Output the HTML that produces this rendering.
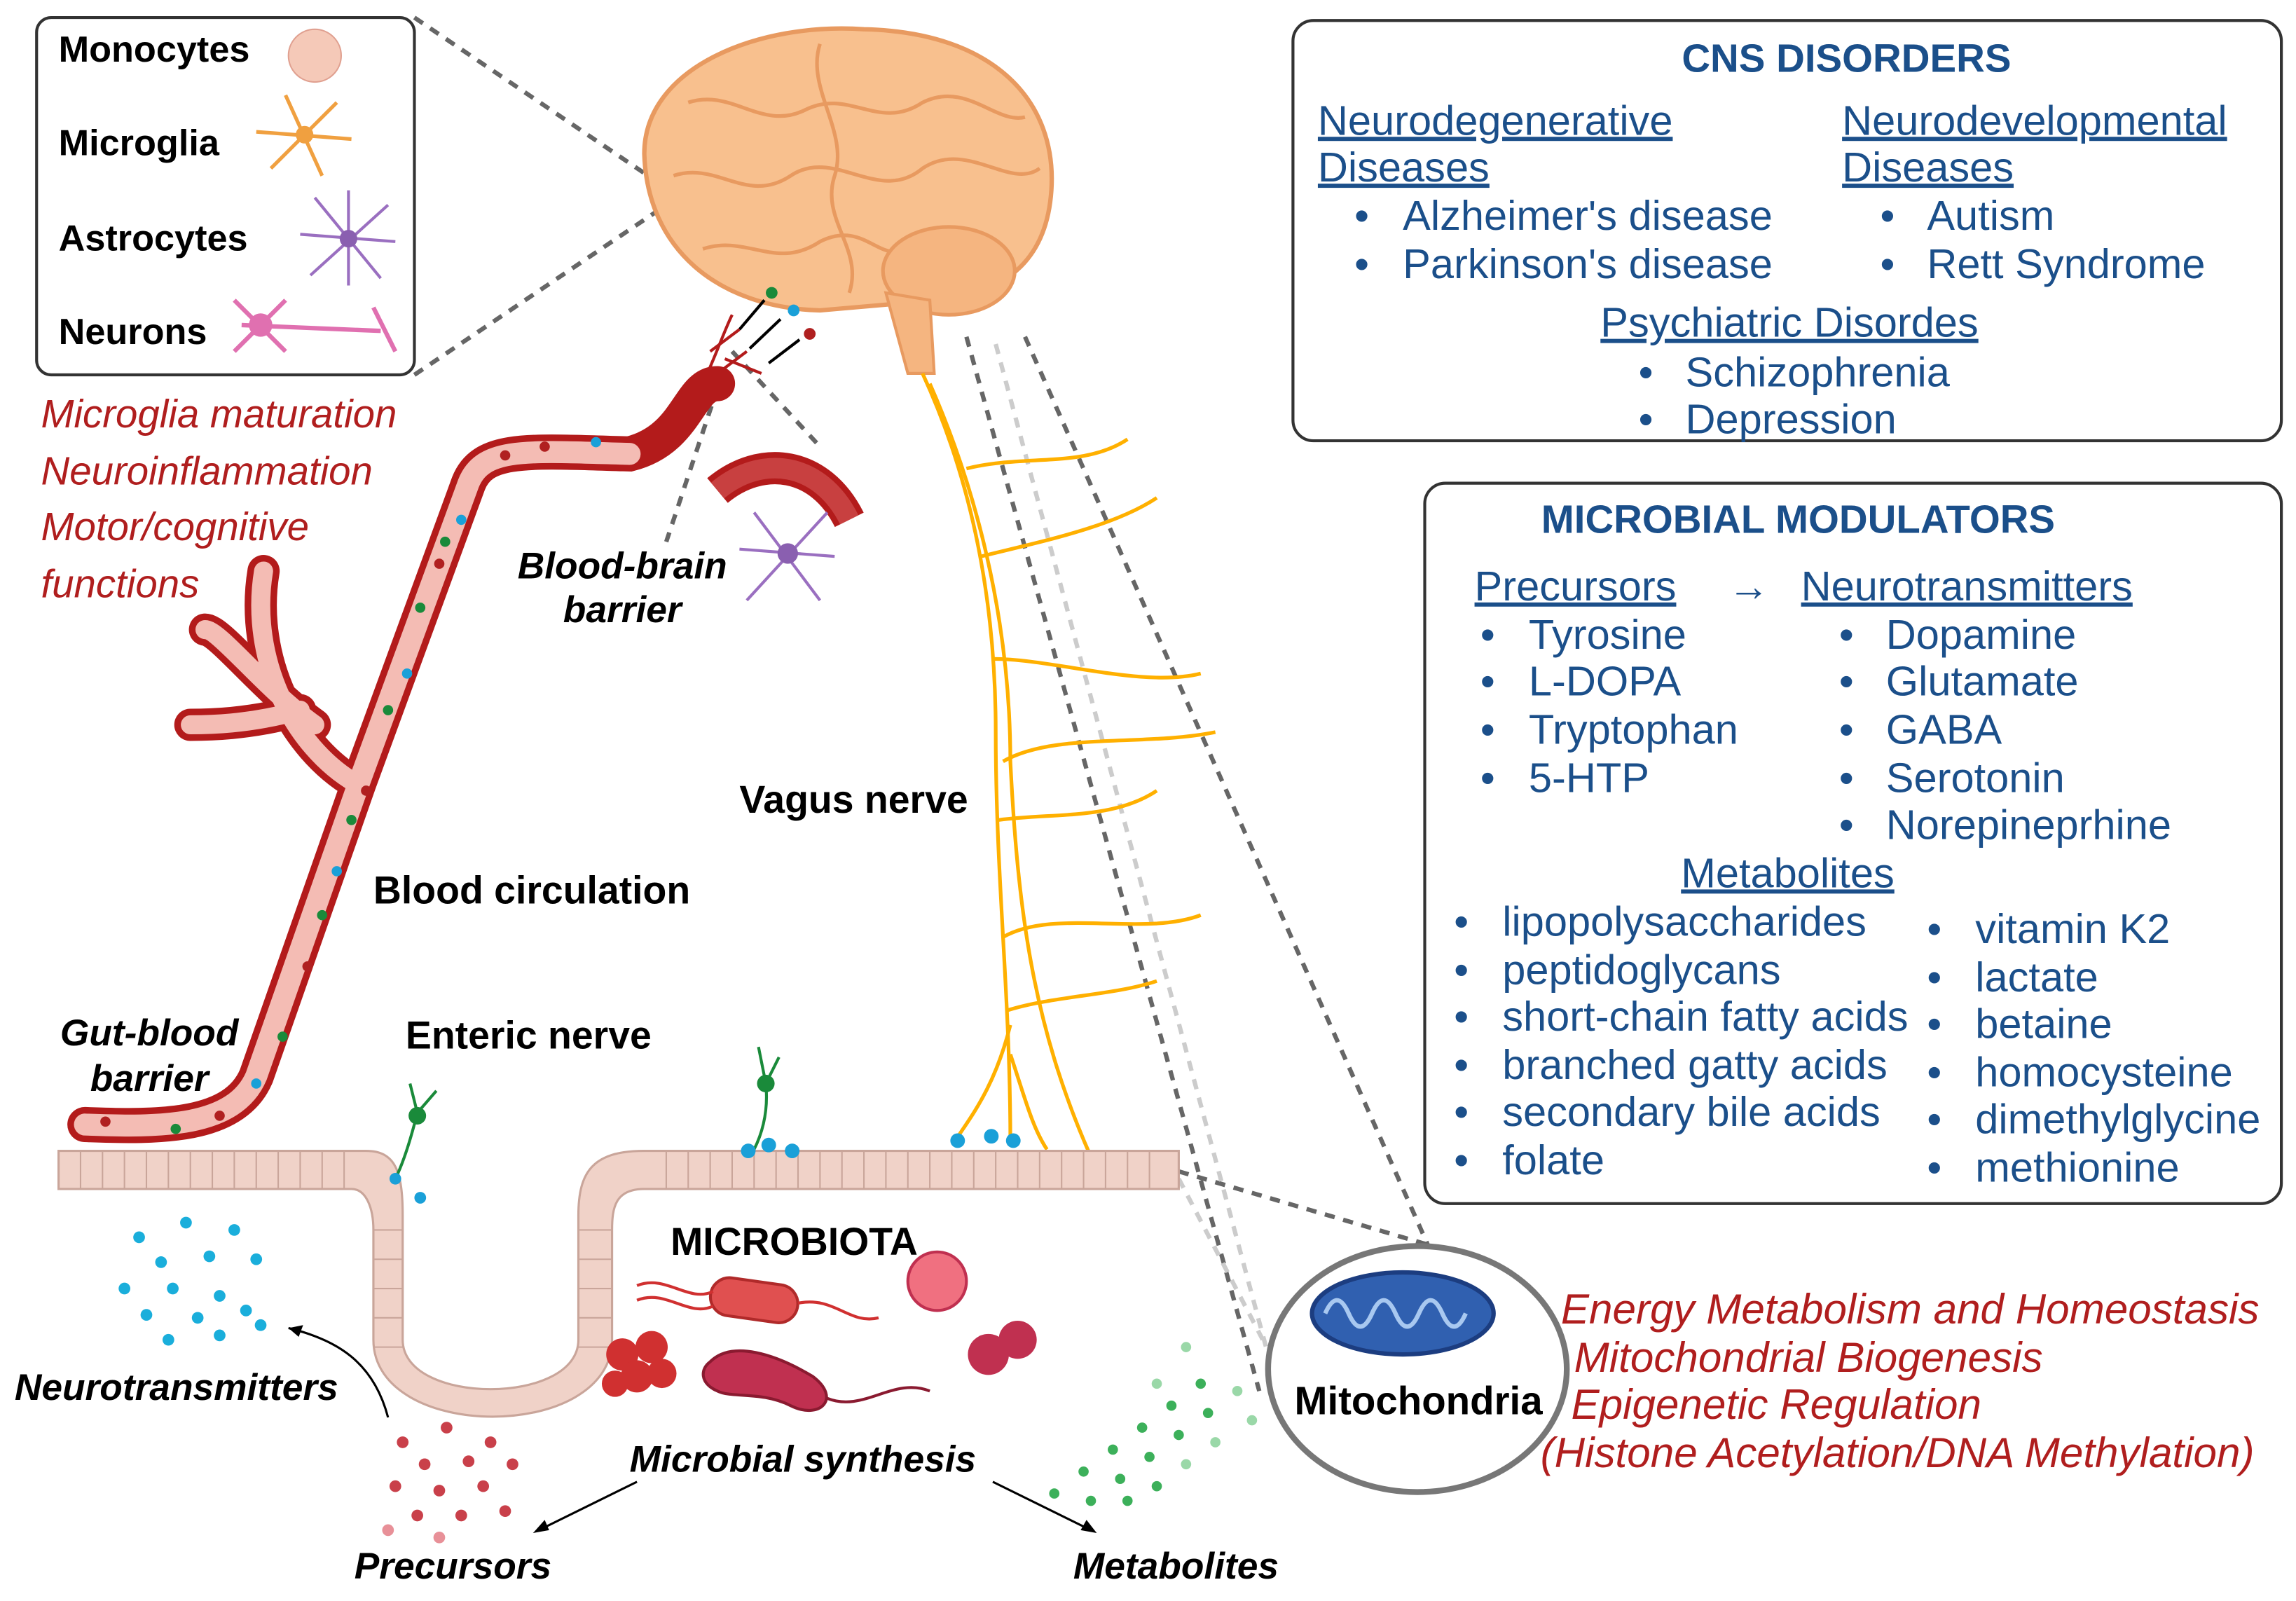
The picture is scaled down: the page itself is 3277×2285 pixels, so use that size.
<!DOCTYPE html>
<html><head><meta charset="utf-8"><style>
html,body{margin:0;padding:0;background:#fff;}
svg{display:block;}
text{font-family:"Liberation Sans",Arial,sans-serif;}
.b{fill:#1b4f8a;font-size:28.5px;}
.bh{fill:#1b4f8a;font-size:28.5px;text-decoration:underline;}
.r{fill:#b01e1e;font-size:27px;font-style:italic;}
.r2{fill:#b01e1e;font-size:28.8px;font-style:italic;}
.k{fill:#000;font-size:26.5px;font-weight:bold;}
.ki{fill:#000;font-size:25.5px;font-weight:bold;font-style:italic;}
</style></head><body>
<svg width="3277" height="2285" viewBox="0 0 1568 1093.4" preserveAspectRatio="none" xmlns="http://www.w3.org/2000/svg">
<rect width="1568" height="1094" fill="#fff"/>
<g stroke="#666" stroke-width="3" stroke-dasharray="7,6" fill="none">
<line x1="283" y1="12" x2="450" y2="125"/>
<line x1="283" y1="256" x2="455" y2="140"/>
<line x1="500" y1="240" x2="560" y2="305"/>
<line x1="490" y1="265" x2="455" y2="370"/>
<line x1="660" y1="230" x2="860" y2="950"/>
<line x1="700" y1="230" x2="975" y2="850"/>
<line x1="805" y1="800" x2="975" y2="850"/>
</g>
<g stroke="#ccc" stroke-width="3" stroke-dasharray="7,6" fill="none">
<line x1="680" y1="235" x2="870" y2="940"/>
<line x1="805" y1="805" x2="865" y2="920"/>
</g>
<rect x="25" y="12" width="258" height="244" rx="10" fill="#fff" stroke="#333" stroke-width="2"/>
<text class="k" x="40" y="42" style="font-size:25px">Monocytes</text>
<text class="k" x="40" y="106" style="font-size:25px">Microglia</text>
<text class="k" x="40" y="171" style="font-size:25px">Astrocytes</text>
<text class="k" x="40" y="235" style="font-size:25px">Neurons</text>
<circle cx="215" cy="38" r="18" fill="#f5c9b8" stroke="#e0a090"/>
<g stroke="#f0a040" stroke-width="2.5"><line x1="175" y1="90" x2="240" y2="95"/><line x1="195" y1="65" x2="220" y2="120"/><line x1="185" y1="115" x2="230" y2="70"/></g>
<circle cx="208" cy="92" r="6" fill="#f0a040"/>
<g stroke="#9a6fc0" stroke-width="2"><line x1="205" y1="160" x2="270" y2="165"/><line x1="215" y1="135" x2="260" y2="190"/><line x1="212" y1="188" x2="265" y2="140"/><line x1="238" y1="130" x2="238" y2="195"/></g>
<circle cx="238" cy="163" r="6" fill="#8a5fb0"/>
<g stroke="#e070b0" stroke-width="3" fill="none"><line x1="165" y1="222" x2="260" y2="226"/><line x1="160" y1="205" x2="195" y2="240"/><line x1="160" y1="240" x2="195" y2="205"/><line x1="255" y1="210" x2="270" y2="240"/></g>
<circle cx="178" cy="222" r="8" fill="#e070b0"/>
<!-- brain -->
<path d="M440,105 C440,45 520,15 590,20 C680,22 722,70 718,130 C715,175 690,200 640,205 L560,212 C490,210 442,170 440,105Z" fill="#f8c08e" stroke="#e89a60" stroke-width="3"/>
<g stroke="#e89a60" stroke-width="2.5" fill="none">
<path d="M470,70 C500,60 520,90 550,75 C580,60 600,90 630,70 C660,55 680,85 700,80"/>
<path d="M460,120 C490,110 510,140 540,120 C570,100 600,140 630,115 C660,95 690,130 710,115"/>
<path d="M480,170 C510,160 530,185 560,165 C590,150 600,180 620,170"/>
<path d="M560,30 C550,60 580,90 570,120 C560,150 590,170 580,200"/>
</g>
<ellipse cx="648" cy="185" rx="45" ry="30" fill="#f5b580" stroke="#e89a60" stroke-width="2.5"/>
<path d="M605,200 L620,255 L638,255 L635,205Z" fill="#f5b580" stroke="#e89a60" stroke-width="2"/>
<g stroke="#000" stroke-width="2"><line x1="505" y1="225" x2="522" y2="205"/><line x1="512" y1="238" x2="533" y2="218"/><line x1="525" y1="248" x2="546" y2="232"/></g>
<circle cx="527" cy="200" r="4" fill="#1a8a3a"/><circle cx="542" cy="212" r="4" fill="#1aa0d8"/><circle cx="553" cy="228" r="4" fill="#b02020"/>
<g stroke="#b31b1b" stroke-width="2" fill="none"><path d="M480,262 C490,240 495,225 500,215"/><path d="M490,255 L510,240"/><path d="M495,245 L520,255"/><path d="M485,240 L505,225"/></g>
<path d="M490,335 C520,310 560,315 580,355" stroke="#b31b1b" stroke-width="22" fill="none"/>
<path d="M490,335 C520,310 560,315 580,355" stroke="#c84040" stroke-width="14" fill="none"/>
<g stroke="#9a6fc0" stroke-width="2"><line x1="505" y1="375" x2="570" y2="380"/><line x1="515" y1="350" x2="560" y2="410"/><line x1="510" y1="410" x2="565" y2="350"/></g>
<circle cx="538" cy="378" r="7" fill="#8a5fb0"/>
<text class="ki" x="425" y="395" text-anchor="middle">Blood-brain</text>
<text class="ki" x="425" y="425" text-anchor="middle">barrier</text>
<text class="r" x="28" y="292">Microglia maturation</text>
<text class="r" x="28" y="331">Neuroinflammation</text>
<text class="r" x="28" y="369">Motor/cognitive</text>
<text class="r" x="28" y="408">functions</text>
<g fill="none" stroke-linecap="round">
<path d="M58,768 C110,770 160,770 175,735 L245,535 L320,330 C330,305 360,308 430,310 C470,300 470,262 490,262" stroke="#b31b1b" stroke-width="24"/>
<path d="M243,535 C200,510 170,450 180,390 M215,495 C180,470 150,430 140,430 M205,485 C170,495 140,495 130,495" stroke="#b31b1b" stroke-width="22"/>
<path d="M58,768 C110,770 160,770 175,735 L245,535 L320,330 C330,305 360,308 430,310" stroke="#f4bcb4" stroke-width="15"/>
<path d="M243,535 C200,510 170,450 180,390 M215,495 C180,470 150,430 140,430 M205,485 C170,495 140,495 130,495" stroke="#f4bcb4" stroke-width="13"/>
</g>
<g>
<circle cx="72" cy="766" r="3.5" fill="#b02020"/><circle cx="120" cy="771" r="3.5" fill="#1a8a3a"/><circle cx="150" cy="762" r="3.5" fill="#b02020"/><circle cx="175" cy="740" r="3.5" fill="#1aa0d8"/>
<circle cx="193" cy="708" r="3.5" fill="#1a8a3a"/><circle cx="210" cy="660" r="3.5" fill="#b02020"/><circle cx="220" cy="625" r="3.5" fill="#1a8a3a"/><circle cx="230" cy="595" r="3.5" fill="#1aa0d8"/>
<circle cx="240" cy="560" r="3.5" fill="#1a8a3a"/><circle cx="250" cy="540" r="3.5" fill="#b02020"/><circle cx="265" cy="485" r="3.5" fill="#1a8a3a"/><circle cx="278" cy="460" r="3.5" fill="#1aa0d8"/>
<circle cx="287" cy="415" r="3.5" fill="#1a8a3a"/><circle cx="300" cy="385" r="3.5" fill="#b02020"/><circle cx="304" cy="370" r="3.5" fill="#1a8a3a"/><circle cx="315" cy="355" r="3.5" fill="#1aa0d8"/>
<circle cx="345" cy="311" r="3.5" fill="#b02020"/><circle cx="372" cy="305" r="3.5" fill="#b02020"/><circle cx="407" cy="302" r="3.5" fill="#1aa0d8"/>
</g>
<text class="k" x="255" y="617">Blood circulation</text>
<text class="ki" x="102" y="714" text-anchor="middle">Gut-blood</text>
<text class="ki" x="102" y="745" text-anchor="middle">barrier</text>
<g stroke="#ffb000" stroke-width="2.5" fill="none">
<path d="M630,255 C660,320 680,400 680,500 C680,600 690,680 690,780"/>
<path d="M635,262 C665,330 690,420 690,520 C695,620 705,700 745,790"/>
<path d="M690,700 C680,740 665,760 655,775"/>
<path d="M690,720 C700,750 705,770 715,785"/>
<path d="M660,320 C700,310 740,320 770,300 M670,380 C710,370 760,360 790,340 M678,450 C720,450 780,470 820,460 M685,520 C720,500 780,510 830,500 M682,560 C720,555 760,560 790,540 M685,640 C720,620 780,640 820,625 M688,690 C720,680 760,680 790,670"/>
</g>
<text class="k" x="505" y="555">Vagus nerve</text>
<path d="M40,786 L250,786 C270,786 275,800 275,830 L275,915 C275,960 395,960 395,915 L395,830 C395,800 405,786 440,786 L805,786 L805,812 L440,812 C420,812 418,825 418,840 L418,915 C418,985 255,985 255,915 L255,840 C255,825 250,812 240,812 L40,812Z" fill="#f0d2c8" stroke="#c9a59a" stroke-width="1.5"/>
<g stroke="#c9a59a" stroke-width="1">
<path d="M55,786v26M70,786v26M85,786v26M100,786v26M115,786v26M130,786v26M145,786v26M160,786v26M175,786v26M190,786v26M205,786v26M220,786v26M235,786v26M455,786v26M470,786v26M485,786v26M500,786v26M515,786v26M530,786v26M545,786v26M560,786v26M575,786v26M590,786v26M605,786v26M620,786v26M635,786v26M650,786v26M665,786v26M680,786v26M695,786v26M710,786v26M725,786v26M740,786v26M755,786v26M770,786v26M785,786v26"/>
<path d="M255,840h20M255,860h20M255,880h20M255,900h20M255,920h20M395,840h23M395,860h23M395,880h23M395,900h23M395,920h23"/>
</g>
<g stroke="#1a8a3a" stroke-width="2" fill="none"><path d="M285,760 C280,780 275,795 270,805 M285,760 L280,740 M285,760 L298,745"/><path d="M523,740 C525,760 520,775 515,785 M523,740 L518,715 M523,740 L532,722"/></g>
<circle cx="285" cy="762" r="6" fill="#1a8a3a"/><circle cx="523" cy="740" r="6" fill="#1a8a3a"/>
<g fill="#1aa0d8"><circle cx="270" cy="805" r="4"/><circle cx="287" cy="818" r="4"/><circle cx="511" cy="786" r="5"/><circle cx="525" cy="782" r="5"/><circle cx="541" cy="786" r="5"/><circle cx="654" cy="779" r="5"/><circle cx="677" cy="776" r="5"/><circle cx="692" cy="779" r="5"/></g>
<text class="k" x="277" y="716">Enteric nerve</text>
<g fill="#1aaedb">
<circle cx="95" cy="845" r="4"/><circle cx="127" cy="835" r="4"/><circle cx="160" cy="840" r="4"/><circle cx="110" cy="862" r="4"/><circle cx="143" cy="858" r="4"/><circle cx="175" cy="860" r="4"/><circle cx="85" cy="880" r="4"/><circle cx="118" cy="880" r="4"/><circle cx="150" cy="885" r="4"/><circle cx="100" cy="898" r="4"/><circle cx="135" cy="900" r="4"/><circle cx="168" cy="895" r="4"/><circle cx="115" cy="915" r="4"/><circle cx="150" cy="912" r="4"/><circle cx="178" cy="905" r="4"/>
</g>
<path d="M265,968 C255,930 230,915 197,907" stroke="#000" stroke-width="1.5" fill="none"/>
<path d="M197,907 l10,-2 -3,8z" fill="#000"/>
<text class="ki" x="10" y="956">Neurotransmitters</text>
<g fill="#c9404a">
<circle cx="275" cy="985" r="4"/><circle cx="305" cy="975" r="4"/><circle cx="335" cy="985" r="4"/><circle cx="290" cy="1000" r="4"/><circle cx="320" cy="998" r="4"/><circle cx="350" cy="1000" r="4"/><circle cx="270" cy="1015" r="4"/><circle cx="300" cy="1018" r="4"/><circle cx="330" cy="1015" r="4"/><circle cx="285" cy="1035" r="4"/><circle cx="315" cy="1035" r="4"/><circle cx="345" cy="1032" r="4"/><circle cx="265" cy="1045" r="4" fill="#e89098"/><circle cx="300" cy="1050" r="4" fill="#e89098"/>
</g>
<g fill="#3cb05a">
<circle cx="720" cy="1020" r="3.5"/><circle cx="740" cy="1005" r="3.5"/><circle cx="760" cy="990" r="3.5"/><circle cx="780" cy="975" r="3.5"/><circle cx="800" cy="960" r="3.5"/><circle cx="820" cy="945" r="3.5"/><circle cx="745" cy="1025" r="3.5"/><circle cx="765" cy="1010" r="3.5"/><circle cx="785" cy="995" r="3.5"/><circle cx="805" cy="980" r="3.5"/><circle cx="825" cy="965" r="3.5"/><circle cx="845" cy="950" r="3.5" fill="#9ad8a8"/><circle cx="770" cy="1025" r="3.5"/><circle cx="790" cy="1015" r="3.5"/><circle cx="810" cy="1000" r="3.5" fill="#9ad8a8"/><circle cx="830" cy="985" r="3.5" fill="#9ad8a8"/><circle cx="855" cy="970" r="3.5" fill="#9ad8a8"/><circle cx="810" cy="920" r="3.5" fill="#9ad8a8"/><circle cx="790" cy="945" r="3.5" fill="#9ad8a8"/>
</g>
<text class="k" x="458" y="857">MICROBIOTA</text>
<rect x="485" y="875" width="60" height="26" rx="13" fill="#e05050" stroke="#b02a2a" stroke-width="2" transform="rotate(8 515 888)"/>
<path d="M435,878 C455,870 470,890 487,882 M435,888 C455,880 470,900 487,892 M545,890 C570,885 580,905 600,900" stroke="#d03030" stroke-width="2" fill="none"/>
<circle cx="640" cy="875" r="20" fill="#f07080" stroke="#c03050" stroke-width="2"/>
<g fill="#d03030"><circle cx="425" cy="925" r="11"/><circle cx="445" cy="920" r="11"/><circle cx="435" cy="940" r="11"/><circle cx="452" cy="938" r="10"/><circle cx="420" cy="945" r="9"/></g>
<path d="M485,930 C500,915 530,925 555,940 C575,955 560,970 540,960 C520,950 500,955 490,950 C478,945 478,935 485,930Z" fill="#c03050" stroke="#8a1a30" stroke-width="2"/>
<path d="M565,955 C590,965 610,940 635,950" stroke="#8a1a30" stroke-width="2" fill="none"/>
<circle cx="675" cy="925" r="14" fill="#c03050"/><circle cx="695" cy="915" r="13" fill="#c03050"/>
<text class="ki" x="430" y="1005">Microbial synthesis</text>
<line x1="435" y1="1012" x2="368" y2="1045" stroke="#000" stroke-width="1.5"/>
<path d="M364,1047 l8,-9 3,7z" fill="#000"/>
<line x1="678" y1="1012" x2="745" y2="1045" stroke="#000" stroke-width="1.5"/>
<path d="M749,1047 l-11,-2 4,-7z" fill="#000"/>
<text class="ki" x="242" y="1078">Precursors</text>
<text class="ki" x="733" y="1078">Metabolites</text>
<ellipse cx="968" cy="935" rx="102" ry="84" fill="#fff" stroke="#777" stroke-width="4"/>
<ellipse cx="958" cy="897" rx="62" ry="28" fill="#3060b0" stroke="#1c3d80" stroke-width="3"/>
<path d="M905,897 q8,-18 16,0 q8,18 16,0 q8,-18 16,0 q8,18 16,0 q8,-18 16,0 q8,18 16,0" stroke="#a8c8f0" stroke-width="3" fill="none"/>
<text class="k" x="884" y="966" style="font-size:27px">Mitochondria</text>
<text class="r2" x="1066" y="904">Energy Metabolism and Homeostasis</text>
<text class="r2" x="1075" y="937">Mitochondrial Biogenesis</text>
<text class="r2" x="1073" y="969">Epigenetic Regulation</text>
<text class="r2" x="1052" y="1002">(Histone Acetylation/DNA Methylation)</text>
<!-- CNS box -->
<rect x="883" y="14" width="675" height="287" rx="14" fill="#fff" stroke="#333" stroke-width="2"/>
<text x="1261" y="49" text-anchor="middle" style="fill:#1b4f8a;font-size:27px;font-weight:bold">CNS DISORDERS</text>
<text class="bh" x="900" y="92">Neurodegenerative </text>
<text class="bh" x="900" y="124">Diseases</text>
<text class="b" x="925" y="157">•</text><text class="b" x="958" y="157">Alzheimer's disease</text>
<text class="b" x="925" y="190">•</text><text class="b" x="958" y="190">Parkinson's disease</text>
<text class="bh" x="1258" y="92">Neurodevelopmental </text>
<text class="bh" x="1258" y="124">Diseases</text>
<text class="b" x="1284" y="157">•</text><text class="b" x="1316" y="157">Autism</text>
<text class="b" x="1284" y="190">•</text><text class="b" x="1316" y="190">Rett Syndrome</text>
<text class="bh" x="1093" y="230">Psychiatric Disordes</text>
<text class="b" x="1119" y="264">•</text><text class="b" x="1151" y="264">Schizophrenia</text>
<text class="b" x="1119" y="296">•</text><text class="b" x="1151" y="296">Depression</text>
<!-- modulators box -->
<rect x="973" y="330" width="585" height="492" rx="14" fill="#fff" stroke="#333" stroke-width="2"/>
<text x="1228" y="364" text-anchor="middle" style="fill:#1b4f8a;font-size:27px;font-weight:bold">MICROBIAL MODULATORS</text>
<text class="bh" x="1007" y="410"> Precursors </text>
<text class="b" x="1180" y="410">→</text>
<text class="bh" x="1230" y="410">Neurotransmitters</text>
<text class="b" x="1011" y="443">•</text><text class="b" x="1044" y="443">Tyrosine</text>
<text class="b" x="1011" y="475">•</text><text class="b" x="1044" y="475">L-DOPA</text>
<text class="b" x="1011" y="508">•</text><text class="b" x="1044" y="508">Tryptophan</text>
<text class="b" x="1011" y="541">•</text><text class="b" x="1044" y="541">5-HTP</text>
<text class="b" x="1256" y="443">•</text><text class="b" x="1288" y="443">Dopamine</text>
<text class="b" x="1256" y="475">•</text><text class="b" x="1288" y="475">Glutamate</text>
<text class="b" x="1256" y="508">•</text><text class="b" x="1288" y="508">GABA</text>
<text class="b" x="1256" y="541">•</text><text class="b" x="1288" y="541">Serotonin</text>
<text class="b" x="1256" y="573">•</text><text class="b" x="1288" y="573">Norepineprhine</text>
<text class="bh" x="1148" y="606"> Metabolites </text>
<text class="b" x="993" y="639">•</text><text class="b" x="1026" y="639">lipopolysaccharides</text>
<text class="b" x="993" y="672">•</text><text class="b" x="1026" y="672">peptidoglycans</text>
<text class="b" x="993" y="704">•</text><text class="b" x="1026" y="704">short-chain fatty acids</text>
<text class="b" x="993" y="737">•</text><text class="b" x="1026" y="737">branched gatty acids</text>
<text class="b" x="993" y="769">•</text><text class="b" x="1026" y="769">secondary bile acids</text>
<text class="b" x="993" y="802">•</text><text class="b" x="1026" y="802">folate</text>
<text class="b" x="1316" y="644">•</text><text class="b" x="1349" y="644">vitamin K2</text>
<text class="b" x="1316" y="677">•</text><text class="b" x="1349" y="677">lactate</text>
<text class="b" x="1316" y="709">•</text><text class="b" x="1349" y="709">betaine</text>
<text class="b" x="1316" y="742">•</text><text class="b" x="1349" y="742">homocysteine</text>
<text class="b" x="1316" y="774">•</text><text class="b" x="1349" y="774">dimethylglycine</text>
<text class="b" x="1316" y="807">•</text><text class="b" x="1349" y="807">methionine</text>
</svg>
</body></html>
